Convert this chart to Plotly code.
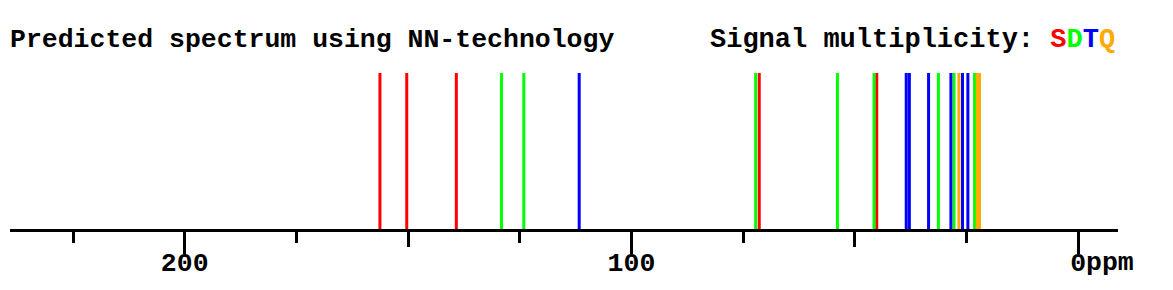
import plotly.graph_objects as go

# Predicted 13C shifts (ppm) grouped by signal multiplicity
singlet_ppm = [156.3, 150.3, 139.2, 71.4, 45.1]
doublet_ppm = [129.1, 124.1, 72.2, 53.9, 45.7, 31.3, 27.8, 23.2]
triplet_ppm = [111.7, 38.5, 37.8, 33.5, 28.5, 25.9, 24.7]
quartet_ppm = [26.7, 22.6, 22.1]

major_ticks = [200, 100, 0]
major_labels = ["200", "100", "0"]
medium_ticks = [150, 50]

W, H = 1173, 290
FONT = "Liberation Mono, Courier New, monospace"
FS = 26.5

groups = [
    (singlet_ppm, "#ff0000"),
    (doublet_ppm, "#00ff00"),
    (triplet_ppm, "#0000ff"),
    (quartet_ppm, "#ffaa00"),
]

fig = go.Figure()
for vals, col in groups:
    xs, ys = [], []
    for v in vals:
        xs += [v, v, None]
        ys += [0, 1, None]
    fig.add_trace(go.Scatter(x=xs, y=ys, mode="lines",
                             line=dict(color=col, width=3),
                             hoverinfo="skip", showlegend=False))

# axis geometry in pixels
left_px, right_px = 10, 1118
y0_px, y1_px = 229, 73
x_range = [239.1, -8.9]

fig.update_layout(
    width=W, height=H,
    margin=dict(l=left_px, r=W - right_px, t=0, b=0),
    paper_bgcolor="white", plot_bgcolor="white",
    showlegend=False,
    xaxis=dict(
        range=x_range, domain=[0, 1],
        showgrid=False, zeroline=False,
        showline=True, linecolor="black", linewidth=3,
        ticks="outside", ticklen=22, tickwidth=3, tickcolor="black",
        tickvals=major_ticks, ticktext=major_labels,
        ticklabelstandoff=-15,
        tickfont=dict(family=FONT, size=FS, color="black", weight="bold"),
        minor=dict(dtick=25, tick0=0, ticks="outside", ticklen=11,
                   tickwidth=3, tickcolor="black", showgrid=False),
        fixedrange=True,
    ),
    xaxis2=dict(
        range=x_range, overlaying="x", anchor="y", side="bottom",
        showgrid=False, zeroline=False, showline=False,
        ticks="outside", ticklen=17, tickwidth=3, tickcolor="black",
        tickvals=medium_ticks, showticklabels=False,
    ),
    yaxis=dict(
        range=[0, 1], domain=[(H - y0_px) / H, (H - y1_px) / H],
        visible=False, fixedrange=True,
    ),
)

# dummy trace to activate xaxis2
fig.add_trace(go.Scatter(x=[None], y=[None], xaxis="x2", showlegend=False))

fig.add_annotation(
    text="<b>Predicted spectrum using NN-technology</b>",
    xref="paper", yref="paper", x=-0.002, y=(H - 40) / H,
    xanchor="left", yanchor="middle", showarrow=False,
    font=dict(family=FONT, size=FS, color="black"),
)
fig.add_annotation(
    text=("<b>Signal multiplicity: "
          "<span style='color:#ff0000'>S</span>"
          "<span style='color:#00ff00'>D</span>"
          "<span style='color:#0000ff'>T</span>"
          "<span style='color:#ffaa00'>Q</span></b>"),
    xref="paper", yref="paper", x=(708 - left_px) / (right_px - left_px), y=(H - 40) / H,
    xanchor="left", yanchor="middle", showarrow=False,
    font=dict(family=FONT, size=27, color="black"),
)
fig.add_annotation(
    text="<b>ppm</b>", xref="x", yref="paper", x=-1.7, y=(H - 263) / H,
    xanchor="left", yanchor="middle", showarrow=False, borderpad=0, borderwidth=0,
    font=dict(family=FONT, size=FS, color="black"),
)

fig.write_html("out.html")
